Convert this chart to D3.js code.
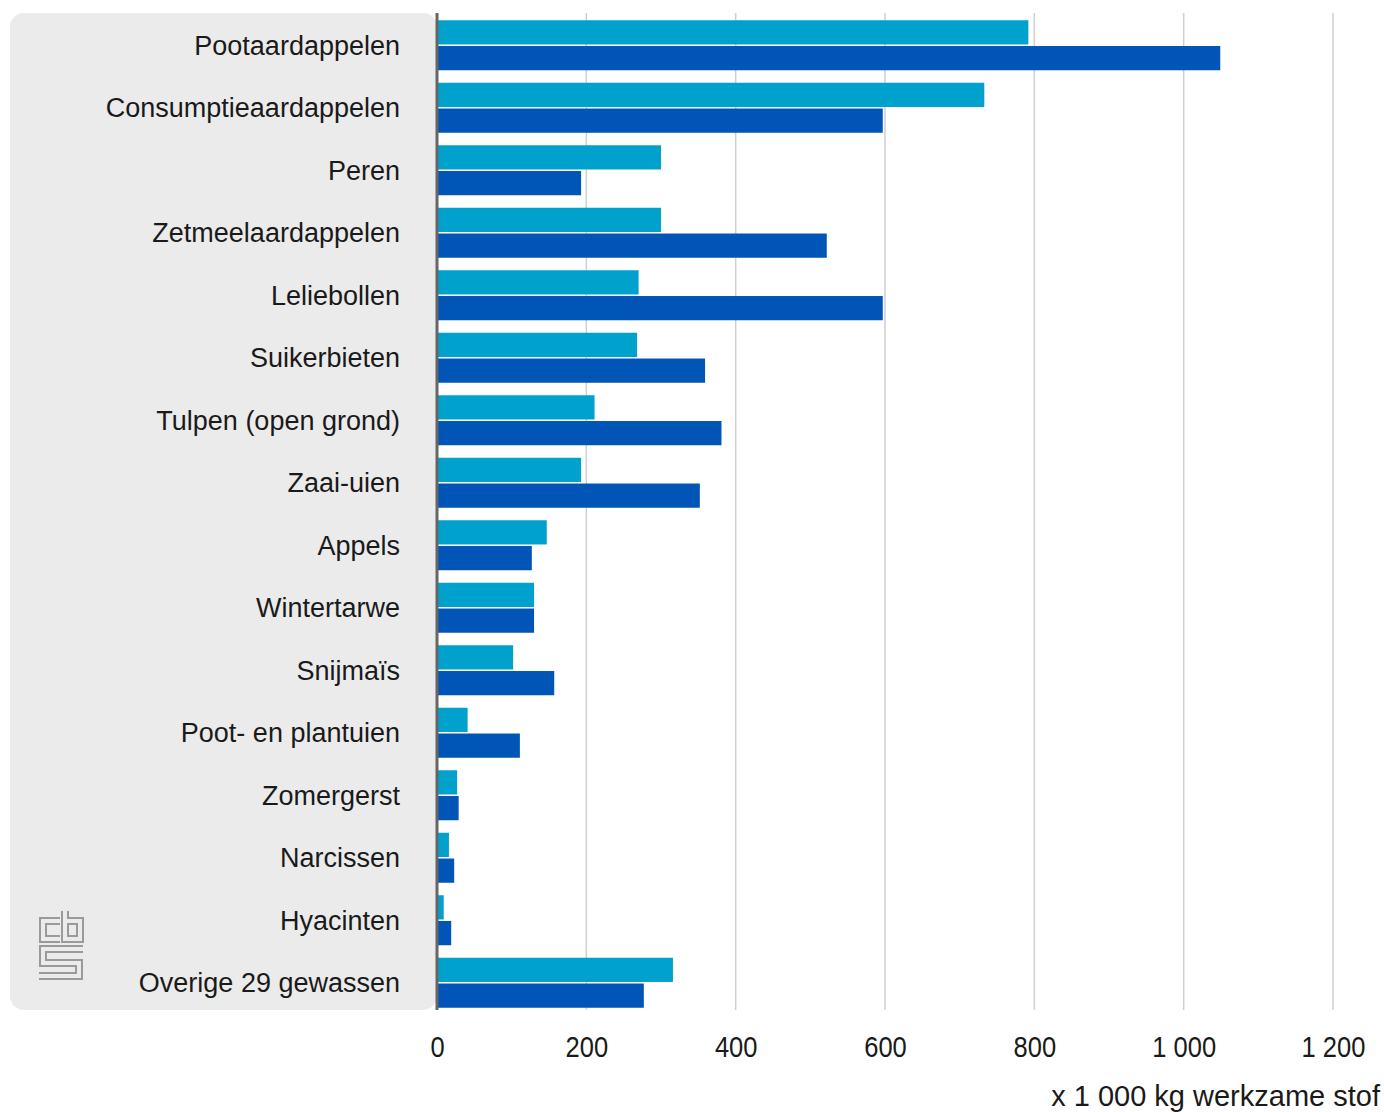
<!DOCTYPE html>
<html>
<head>
<meta charset="utf-8">
<script src="https://cdn.jsdelivr.net/npm/d3@7"></script>
<style>
  body { margin: 0; background: #fff; }
  text { font-family: "Liberation Sans", Arial, sans-serif; fill: #1a1a1a; }
</style>
</head>
<body>
<script>
// data
var crops = ["Pootaardappelen", "Consumptieaardappelen", "Peren", "Zetmeelaardappelen",
  "Leliebollen", "Suikerbieten", "Tulpen (open grond)", "Zaai-uien", "Appels",
  "Wintertarwe", "Snijmaïs", "Poot- en plantuien", "Zomergerst", "Narcissen",
  "Hyacinten", "Overige 29 gewassen"];
var seriesA = [792, 733, 300, 300, 270, 268, 211, 193, 147, 130, 102, 41, 27, 16, 9, 316];
var seriesB = [1049, 597, 193, 522, 597, 359, 381, 352, 127, 130, 157, 111, 29, 23, 19, 277];
var ticks = [0, 200, 400, 600, 800, 1000, 1200];
var unitLabel = "x 1 000 kg werkzame stof";

var width = 1384, height = 1112;
var colA = "#00a1cd", colB = "#0055b7";

var svg = d3.select("body").append("svg")
    .attr("width", width)
    .attr("height", height);

var x = d3.scaleLinear().domain([0, 1200]).range([437, 1333]);
var y = d3.scaleBand().domain(crops).range([14, 1014]).paddingInner(0.2).paddingOuter(0.1);
var sub = d3.scaleBand().domain(["a", "b"]).range([0, y.bandwidth()]).paddingInner(0.06);

var plotTop = 13, plotBottom = 1010;

// grey panel behind labels
svg.append("rect")
    .attr("x", 10).attr("y", plotTop)
    .attr("width", 427).attr("height", plotBottom - plotTop)
    .attr("rx", 14)
    .attr("fill", "#ebebeb");

// gridlines
svg.selectAll(".grid")
    .data(ticks.filter(function(d) { return d > 0; }))
    .enter().append("line")
    .attr("class", "grid")
    .attr("x1", function(d) { return x(d); })
    .attr("x2", function(d) { return x(d); })
    .attr("y1", plotTop).attr("y2", plotBottom)
    .attr("stroke", "#cfcfcf")
    .attr("stroke-width", 1.5);

// bars
var g = svg.selectAll(".row")
    .data(crops)
    .enter().append("g")
    .attr("class", "row")
    .attr("transform", function(d) { return "translate(0," + y(d) + ")"; });

g.append("rect")
    .attr("x", x(0) + 1)
    .attr("y", sub("a"))
    .attr("height", sub.bandwidth())
    .attr("width", function(d, i) { return x(seriesA[i]) - x(0) - 1; })
    .attr("fill", colA);

g.append("rect")
    .attr("x", x(0) + 1)
    .attr("y", sub("b"))
    .attr("height", sub.bandwidth())
    .attr("width", function(d, i) { return x(seriesB[i]) - x(0) - 1; })
    .attr("fill", colB);

g.append("text")
    .attr("x", 400)
    .attr("y", y.bandwidth() / 2)
    .attr("dy", "0.36em")
    .attr("text-anchor", "end")
    .style("font-size", "27px")
    .text(function(d) { return d; });

// zero axis line
svg.append("line")
    .attr("x1", x(0)).attr("x2", x(0))
    .attr("y1", plotTop).attr("y2", plotBottom)
    .attr("stroke", "#666")
    .attr("stroke-width", 3);

// x axis labels
var fmt = d3.formatLocale({decimal: ",", thousands: " ", grouping: [3], currency: ["", ""]}).format(",");
var xAxis = d3.axisBottom(x).tickValues(ticks).tickSize(0).tickPadding(0).tickFormat(fmt);
var ax = svg.append("g")
    .attr("transform", "translate(0,1036)")
    .call(xAxis);
ax.select(".domain").remove();
ax.selectAll("text")
    .style("font-size", "29px")
    .style("font-family", "'Liberation Sans', Arial, sans-serif")
    .attr("transform", "scale(0.88,1)")
    .attr("fill", "#1a1a1a");

svg.append("text")
    .attr("x", 1380)
    .attr("y", 1106)
    .attr("text-anchor", "end")
    .style("font-size", "29px")
    .text(unitLabel);

// cbs logo, double-line letters
var logo = svg.append("g").attr("transform", "translate(39,911)");
var letters = ["M21,10 H4 V28 H21", "M26,0 V28 H41 V10 H26", "M44,38 H4 V52 H40 V65 H0"];
letters.forEach(function(p) {
  logo.append("path").attr("d", p).attr("fill", "none")
      .attr("stroke", "#9a9a9a").attr("stroke-width", 8);
  logo.append("path").attr("d", p).attr("fill", "none")
      .attr("stroke", "#ebebeb").attr("stroke-width", 4);
});
</script>
</body>
</html>
